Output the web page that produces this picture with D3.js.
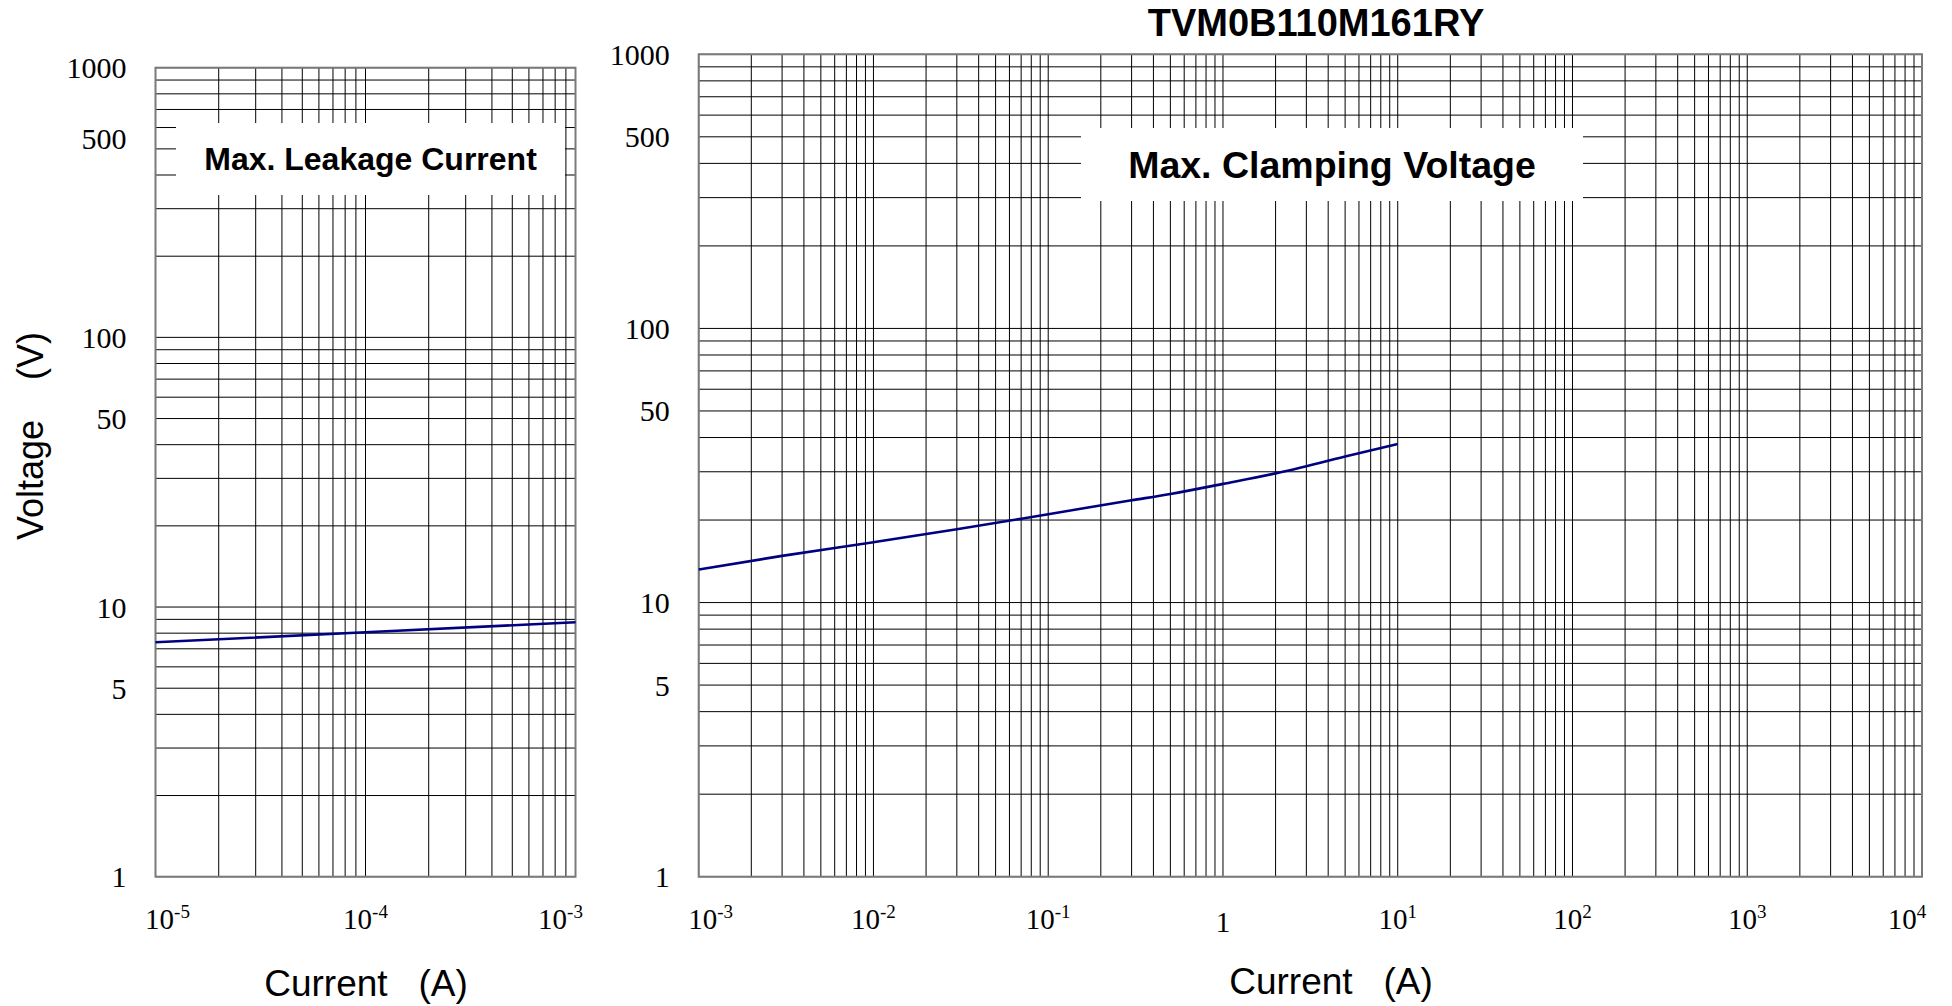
<!DOCTYPE html>
<html>
<head>
<meta charset="utf-8">
<script src="https://cdn.jsdelivr.net/npm/d3@7"></script>
<style>
  body { margin: 0; background: #fff; }
  svg { display: block; }
</style>
</head>
<body>
<div id="chart"></div>
<script>
// data
var voltTicks = [1, 5, 10, 50, 100, 500, 1000];
var leakTicks = [1e-5, 1e-4, 1e-3];
var clampTicks = [1e-3, 1e-2, 1e-1, 1, 1e1, 1e2, 1e3, 1e4];

var leakCurrent = [1e-5, 1e-4, 1e-3];
var leakVoltage = [7.4, 8.06, 8.78];

var clampCurrent = [0.001, 0.003, 0.01, 0.03, 0.1, 0.3, 0.5, 1, 2, 5, 10];
var clampVoltage = [13.2, 14.8, 16.6, 18.5, 21.0, 23.6, 24.9, 27.1, 29.6, 34.1, 37.9];

var W = 1952, H = 1006;

var svg = d3.select("#chart").append("svg")
    .attr("width", W)
    .attr("height", H);

var serif = "'Liberation Serif', 'Times New Roman', serif",
    sans = "'Liberation Sans', Arial, sans-serif";

function logPanel(opt) {
  var x = d3.scaleLog().domain(opt.xDomain).range([opt.x0, opt.x1]);
  var y = d3.scaleLog().domain([1, 1000]).range([opt.y1, opt.y0]);
  var g = svg.append("g");

  // grid, every 1..9 of each decade
  g.selectAll(".vg").data(x.ticks(30))
    .enter().append("line")
      .attr("x1", d => x(d)).attr("x2", d => x(d))
      .attr("y1", opt.y0).attr("y2", opt.y1)
      .attr("stroke", "#000").attr("stroke-width", 1);
  g.selectAll(".hg").data(y.ticks(30))
    .enter().append("line")
      .attr("x1", opt.x0).attr("x2", opt.x1)
      .attr("y1", d => y(d)).attr("y2", d => y(d))
      .attr("stroke", "#000").attr("stroke-width", 1);

  // white label box knocks out the grid
  g.append("rect")
    .attr("x", opt.box[0]).attr("y", opt.box[1])
    .attr("width", opt.box[2] - opt.box[0])
    .attr("height", opt.box[3] - opt.box[1])
    .attr("fill", "#fff");
  g.append("text")
    .attr("x", opt.labelX).attr("y", opt.labelY)
    .attr("text-anchor", "middle")
    .style("font-family", sans).style("font-weight", "bold")
    .style("font-size", opt.labelSize + "px")
    .text(opt.label);

  // frame
  g.append("rect")
    .attr("x", opt.x0).attr("y", opt.y0)
    .attr("width", opt.x1 - opt.x0).attr("height", opt.y1 - opt.y0)
    .attr("fill", "none").attr("stroke", "#7a7a7a").attr("stroke-width", 2);

  // curve
  var line = d3.line()
    .x(d => x(d[0])).y(d => y(d[1]))
    .curve(d3.curveMonotoneX);
  g.append("path")
    .datum(d3.zip(opt.xs, opt.ys))
    .attr("d", line)
    .attr("fill", "none")
    .attr("stroke", "#000080")
    .attr("stroke-width", 2.6);

  // y tick labels
  g.selectAll(".yl").data(voltTicks)
    .enter().append("text")
      .attr("x", opt.x0 - 29).attr("y", d => y(d))
      .attr("dy", d => (d === 500 && opt.nudge500) ? "0.02em" : "0.35em")
      .attr("text-anchor", "end")
      .style("font-family", serif).style("font-size", "30px")
      .text(d => d);

  // x tick labels as powers of ten, kept inside the frame
  var xl = g.selectAll(".xl").data(opt.xTicks)
    .enter().append("text")
      .attr("x", d => Math.max(opt.x0 + 12, Math.min(opt.x1 - 15, x(d))))
      .attr("y", d => d === 1 ? 932 : 929)
      .attr("text-anchor", "middle")
      .style("font-family", serif).style("font-size", "29px");
  xl.each(function(d) {
    var e = Math.round(Math.log10(d)), t = d3.select(this);
    if (e === 0) { t.text("1"); return; }
    t.append("tspan").text("10");
    t.append("tspan").attr("dy", -11).style("font-size", "19px").text(e);
  });

  g.append("text")
    .attr("x", opt.titleX).attr("y", opt.titleY)
    .attr("text-anchor", "middle")
    .style("font-family", sans).style("font-size", "37px")
    .style("white-space", "pre")
    .text("Current   (A)");
}

logPanel({
  x0: 155.5, x1: 575.5, y0: 67.7, y1: 876.7,
  xDomain: [1e-5, 1e-3], xTicks: leakTicks,
  xs: leakCurrent, ys: leakVoltage,
  box: [176, 123, 565, 195],
  label: "Max. Leakage Current", labelX: 370.5, labelY: 170, labelSize: 32,
  titleX: 366, titleY: 996, nudge500: true
});

logPanel({
  x0: 698.7, x1: 1922, y0: 54.3, y1: 876.7,
  xDomain: [1e-3, 1e4], xTicks: clampTicks,
  xs: clampCurrent, ys: clampVoltage,
  box: [1081, 128, 1583, 201],
  label: "Max. Clamping Voltage", labelX: 1332, labelY: 178, labelSize: 37.5,
  titleX: 1331, titleY: 994, nudge500: false
});

// part number
svg.append("text")
  .attr("x", 1316).attr("y", 36)
  .attr("text-anchor", "middle")
  .style("font-family", sans).style("font-weight", "bold")
  .style("font-size", "38px")
  .text("TVM0B110M161RY");

// shared y-axis title
svg.append("text")
  .attr("transform", "translate(43,436) rotate(-90)")
  .attr("text-anchor", "middle")
  .style("font-family", sans).style("font-size", "36px")
  .style("white-space", "pre")
  .text("Voltage    (V)");
</script>
</body>
</html>
